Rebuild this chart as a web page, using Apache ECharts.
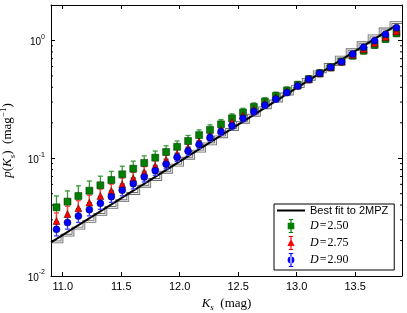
<!DOCTYPE html>
<html><head><meta charset="utf-8">
<script src="https://cdn.jsdelivr.net/npm/echarts@6/dist/echarts.min.js"></script>
<style>html,body{margin:0;padding:0;background:#fff}#c{width:407px;height:313px}</style>
</head><body><div id="c"></div>
<script>
// ---- data ----
const binCenters = [10.947,11.041,11.134,11.228,11.322,11.416,11.509,11.603,11.697,11.791,11.884,11.978,12.072,12.166,12.259,12.353,12.447,12.541,12.634,12.728,12.822,12.916,13.009,13.103,13.197,13.291,13.384,13.478,13.572,13.666,13.759,13.853];
const binEdges = [10.9,10.994,11.088,11.181,11.275,11.369,11.463,11.556,11.65,11.744,11.838,11.931,12.025,12.119,12.213,12.306,12.4,12.494,12.588,12.681,12.775,12.869,12.963,13.056,13.15,13.244,13.338,13.431,13.525,13.619,13.713,13.806,13.9];
const histValues = [0.0195,0.0222,0.0255,0.0291,0.0333,0.0382,0.0436,0.0502,0.0578,0.0660,0.0760,0.0874,0.1000,0.1150,0.1323,0.1521,0.1754,0.2019,0.2317,0.268,0.306,0.351,0.406,0.468,0.542,0.625,0.722,0.835,0.956,1.094,1.252,1.419,1.419];
const fitX = [10.9, 13.853];
const fitY = [0.0193, 1.35];
const greenY = [0.0383,0.0428,0.0478,0.0530,0.0589,0.0653,0.0730,0.0815,0.0912,0.1011,0.113,0.125,0.140,0.157,0.174,0.194,0.218,0.244,0.272,0.302,0.338,0.375,0.419,0.469,0.527,0.592,0.661,0.743,0.819,0.916,1.03,1.15];
const greenErr = [0.0095,0.0100,0.0105,0.0110,0.0115,0.0120,0.0125,0.0130,0.0135,0.0140,0.0145,0.0150,0.0160,0.0170,0.0180,0.0190,0.0200,0.0215,0.0230,0.0245,0.0260,0.0280,0.0300,0.0320,0.0350,0.0380,0.0420,0.0460,0.0510,0.0560,0.0630,0.0700];
const redY = [0.0293,0.0336,0.0376,0.0420,0.0478,0.0527,0.0600,0.0675,0.0759,0.0859,0.0966,0.108,0.121,0.138,0.155,0.174,0.203,0.231,0.261,0.292,0.328,0.368,0.415,0.469,0.527,0.592,0.661,0.755,0.845,0.950,1.07,1.20];
const redErr = [0.0050,0.0055,0.0060,0.0065,0.0070,0.0075,0.0080,0.0085,0.0090,0.0095,0.0100,0.0105,0.0110,0.0120,0.0130,0.0140,0.0150,0.0165,0.0180,0.0195,0.0210,0.0230,0.0250,0.0270,0.0300,0.0330,0.0360,0.0400,0.0440,0.0490,0.0540,0.0600];
const blueY = [0.0249,0.0284,0.0323,0.0366,0.0414,0.0472,0.0535,0.0608,0.0693,0.0784,0.0889,0.102,0.115,0.131,0.150,0.168,0.189,0.218,0.249,0.282,0.318,0.361,0.411,0.469,0.527,0.592,0.661,0.767,0.875,0.996,1.13,1.285];
const blueErr = [0.0030,0.0034,0.0038,0.0042,0.0046,0.0050,0.0055,0.0060,0.0065,0.0070,0.0076,0.0082,0.0088,0.0095,0.0105,0.0115,0.0125,0.0140,0.0155,0.0170,0.0185,0.0200,0.0220,0.0240,0.0265,0.0290,0.0320,0.0360,0.0400,0.0450,0.0500,0.0560];
const xTicks = [11.0,11.5,12.0,12.5,13.0,13.5];
const yMinorTicks = [0.02,0.03,0.04,0.05,0.06,0.07,0.08,0.09,0.2,0.3,0.4,0.5,0.6,0.7,0.8,0.9];
const seriesNames = ['Best fit to 2MPZ','D=2.50','D=2.75','D=2.90'];
const X_MIN = 10.9, X_MAX = 13.9, Y_MIN = 0.01, Y_MAX = 2;

// ---- helpers ----
const SANS = 'Liberation Sans, Arial, sans-serif';
const SERIF = 'Liberation Serif, Times New Roman, serif';
const zip = (xs, ys, es) => xs.map((x, i) => es ? [x, ys[i], es[i]] : [x, ys[i]]);

function errSeries(name, xs, ys, es, color) {
  return {
    type: 'custom', name: name + '_err', xAxisIndex: 0, yAxisIndex: 0, z: 3,
    data: zip(xs, ys, es), silent: true,
    renderItem: function (params, api) {
      const x = api.value(0), y = api.value(1), e = api.value(2);
      const pt = api.coord([x, y + e]);
      const pb = api.coord([x, Math.max(y - e, 1e-4)]);
      const cw = 2.5;
      const st = {stroke: color, lineWidth: 1.3};
      return {type: 'group', children: [
        {type: 'line', shape: {x1: pt[0], y1: pt[1], x2: pb[0], y2: pb[1]}, style: st},
        {type: 'line', shape: {x1: pt[0]-cw, y1: pt[1], x2: pt[0]+cw, y2: pt[1]}, style: st},
        {type: 'line', shape: {x1: pb[0]-cw, y1: pb[1], x2: pb[0]+cw, y2: pb[1]}, style: st}
      ]};
    }
  };
}

const legTiny = 'M0 7.5 L0.01 7.5 L0 7.51 Z M28 7.5 L27.99 7.5 L28 7.51 Z ';
const legBar = 'M13.4 0.5 L14.6 0.5 L14.6 14.5 L13.4 14.5 Z M11.8 0.5 L16.2 0.5 L16.2 1.5 L11.8 1.5 Z M11.8 13.5 L16.2 13.5 L16.2 14.5 L11.8 14.5 Z ';
const iconSquare = 'path://' + legTiny + legBar + 'M10.7 4.2 L17.3 4.2 L17.3 10.8 L10.7 10.8 Z';
const iconTri = 'path://' + legTiny + legBar + 'M14 3.6 L17.6 10.6 L10.4 10.6 Z';
const iconCirc = 'path://' + legTiny + legBar + 'M10.6 7.5 A3.4 3.4 0 1 0 17.4 7.5 A3.4 3.4 0 1 0 10.6 7.5 Z';

const chart = echarts.init(document.getElementById('c'), null, {renderer: 'canvas'});
const option = {
  animation: false,
  backgroundColor: '#fff',
  grid: {left: 51, right: 5, top: 5, bottom: 37, outerBoundsMode: 'none', containLabel: false},
  xAxis: [
    {type: 'value', min: X_MIN, max: X_MAX, position: 'bottom',
     name: '{i|K}{sub|s}{r|  (mag)}', nameLocation: 'middle', nameGap: 17,
     nameTextStyle: {rich: {
       i: {fontFamily: SERIF, fontStyle: 'italic', fontSize: 13, color: '#000', lineHeight: 18, verticalAlign: 'middle'},
       r: {fontFamily: SERIF, fontSize: 13, color: '#000', lineHeight: 18, verticalAlign: 'middle'},
       sub: {fontFamily: SERIF, fontStyle: 'italic', fontSize: 9, color: '#000', lineHeight: 9, verticalAlign: 'bottom'}
     }},
     axisLine: {show: true, onZero: false, lineStyle: {color: '#000', width: 1}},
     axisTick: {show: true, inside: true, length: 4, customValues: xTicks, lineStyle: {color: '#000'}},
     axisLabel: {customValues: xTicks, formatter: v => v.toFixed(1), color: '#000', fontFamily: SANS, fontSize: 11, margin: 5},
     splitLine: {show: false}},
    {type: 'value', min: X_MIN, max: X_MAX, position: 'top',
     axisLine: {show: true, onZero: false, lineStyle: {color: '#000', width: 1}},
     axisTick: {show: true, inside: true, length: 4, customValues: xTicks, lineStyle: {color: '#000'}},
     axisLabel: {show: false}, splitLine: {show: false}}
  ],
  yAxis: [
    {type: 'log', logBase: 10, min: Y_MIN, max: Y_MAX, position: 'left',
     name: '{i|p}{r|(}{i|K}{sub|s}{r|)  (mag}{sup|−1}{r|)}', nameLocation: 'middle', nameGap: 30, nameRotate: 90,
     nameTextStyle: {rich: {
       i: {fontFamily: SERIF, fontStyle: 'italic', fontSize: 13, color: '#000', lineHeight: 18, verticalAlign: 'middle'},
       r: {fontFamily: SERIF, fontSize: 13, color: '#000', lineHeight: 18, verticalAlign: 'middle'},
       sub: {fontFamily: SERIF, fontStyle: 'italic', fontSize: 9, color: '#000', lineHeight: 9, verticalAlign: 'bottom'},
       sup: {fontFamily: SERIF, fontSize: 9, color: '#000', lineHeight: 9, verticalAlign: 'top'}
     }},
     axisLine: {show: true, onZero: false, lineStyle: {color: '#000', width: 1}},
     axisTick: {show: true, inside: true, length: 4, lineStyle: {color: '#000'}},
     axisLabel: {color: '#000', margin: 6, showMaxLabel: false,
       formatter: v => '{b|10}{s|' + Math.round(Math.log10(v)) + '}',
       rich: {b: {fontFamily: SANS, fontSize: 10, color: '#000', lineHeight: 14, verticalAlign: 'bottom'},
              s: {fontFamily: SANS, fontSize: 7, color: '#000', lineHeight: 7, verticalAlign: 'top'}}},
     splitLine: {show: false}, minorTick: {show: false}},
    {type: 'log', logBase: 10, min: Y_MIN, max: Y_MAX, position: 'right',
     axisLine: {show: true, onZero: false, lineStyle: {color: '#000', width: 1}},
     axisTick: {show: true, inside: true, length: 4, lineStyle: {color: '#000'}},
     axisLabel: {show: false}, splitLine: {show: false}}
  ],
  legend: {
    left: 274, top: 204, orient: 'vertical', padding: [1, 6, 3, 3], itemGap: 3,
    itemWidth: 28, itemHeight: 14, backgroundColor: '#fff', borderColor: '#000', borderWidth: 1, borderRadius: 0,
    data: [
      {name: seriesNames[0], icon: 'path://' + legTiny + 'M0 6.5 L28 6.5 L28 8.5 L0 8.5 Z', itemStyle: {color: '#000', borderWidth: 0}},
      {name: seriesNames[1], icon: iconSquare, itemStyle: {color: '#007f00', borderWidth: 0}},
      {name: seriesNames[2], icon: iconTri, itemStyle: {color: '#ff0000', borderWidth: 0}},
      {name: seriesNames[3], icon: iconCirc, itemStyle: {color: '#0000ff', borderWidth: 0}}
    ],
    formatter: function (n) {
      if (n.charAt(0) === 'D') return '{d|D}{e|\u200a=\u200a' + n.slice(2) + '}';
      return '{t|' + n + '}';
    },
    textStyle: {rich: {
      t: {fontFamily: SANS, fontSize: 11, color: '#000'},
      d: {fontFamily: SERIF, fontStyle: 'italic', fontSize: 12, color: '#000'},
      e: {fontFamily: SERIF, fontSize: 12, color: '#000'}
    }}
  },
  series: [
    {type: 'line', name: 'hist', step: 'end', data: zip(binEdges, histValues), symbol: 'none', showSymbol: false, z: 1,
     lineStyle: {color: '#6e6e6e', width: 2.8, join: 'miter', cap: 'butt'}, silent: true},
    {type: 'line', name: 'hist2', step: 'end', data: zip(binEdges, histValues), symbol: 'none', showSymbol: false, z: 1.5,
     lineStyle: {color: '#e6e6e6', width: 1.1, join: 'miter', cap: 'butt'}, silent: true},
    {type: 'line', name: seriesNames[0], data: zip(fitX, fitY), symbol: 'none', showSymbol: false, z: 2,
     lineStyle: {color: '#000', width: 2}},
    errSeries('g', binCenters, greenY, greenErr, '#3a9a3a'),
    {type: 'scatter', name: seriesNames[1], data: zip(binCenters, greenY), symbol: 'rect', symbolSize: 7, z: 4,
     itemStyle: {color: '#007f00', borderColor: '#003000', borderWidth: 0.5, opacity: 1}},
    errSeries('r', binCenters, redY, redErr, '#ff4040'),
    {type: 'scatter', name: seriesNames[2], data: zip(binCenters, redY), symbol: 'triangle', symbolSize: 7, z: 4,
     itemStyle: {color: '#ff0000', borderColor: '#500000', borderWidth: 0.5, opacity: 1}},
    errSeries('b', binCenters, blueY, blueErr, '#4040ff'),
    {type: 'scatter', name: seriesNames[3], data: zip(binCenters, blueY), symbol: 'circle', symbolSize: 7, z: 4,
     itemStyle: {color: '#0000ff', borderColor: '#000040', borderWidth: 0.5, opacity: 1}},
    {type: 'custom', name: 'minor', xAxisIndex: 0, yAxisIndex: 0, silent: true, z: 5,
     data: yMinorTicks.map(v => [X_MIN, v]),
     renderItem: function (params, api) {
       const p = api.coord([api.value(0), api.value(1)]);
       const cs = params.coordSys;
       const st = {stroke: '#000', lineWidth: 1};
       return {type: 'group', children: [
         {type: 'line', shape: {x1: cs.x, y1: p[1], x2: cs.x + 2, y2: p[1]}, style: st},
         {type: 'line', shape: {x1: cs.x + cs.width, y1: p[1], x2: cs.x + cs.width - 2, y2: p[1]}, style: st}
       ]};
     }}
  ]
};
chart.setOption(option);
</script></body></html>
